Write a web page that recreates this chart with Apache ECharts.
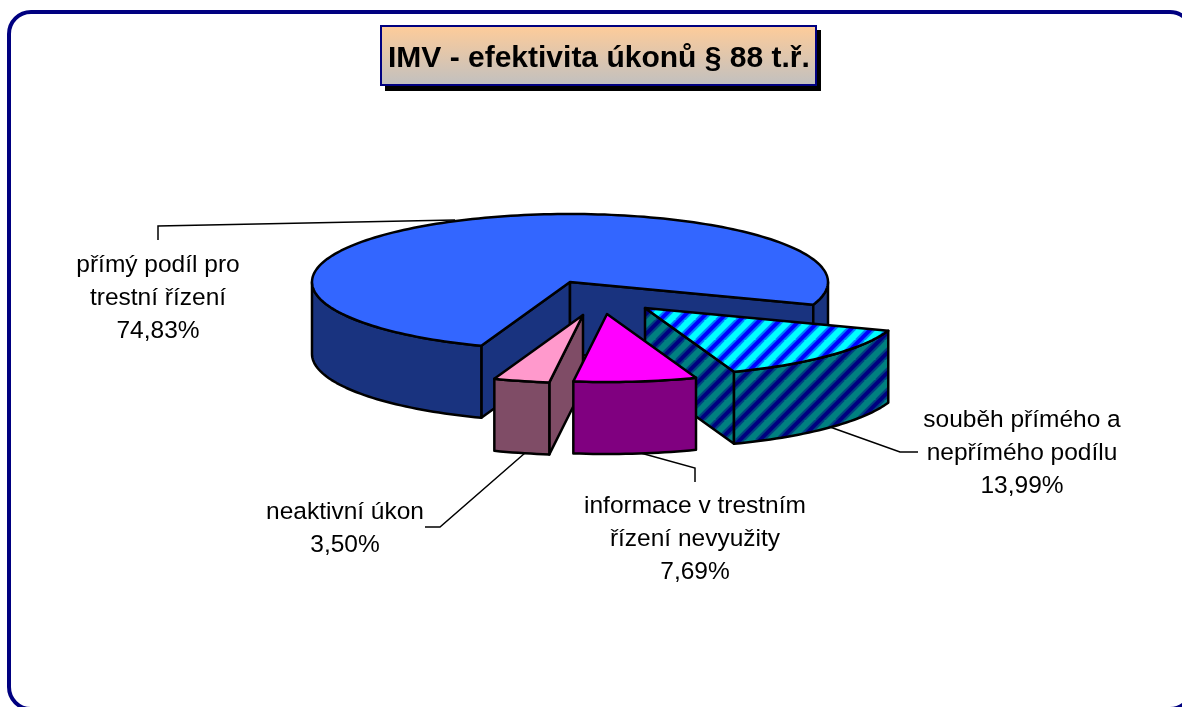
<!DOCTYPE html>
<html>
<head>
<meta charset="utf-8">
<title>IMV - efektivita úkonů § 88 t.ř.</title>
<style>
  html, body { margin: 0; padding: 0; background: #fff; }
  #chart { width: 1182px; height: 707px; }
</style>
<script src="https://cdn.jsdelivr.net/npm/echarts@6/dist/echarts.min.js"></script>
</head>
<body>
<div id="chart"></div>
<script>
const chartTitle = 'IMV - efektivita úkonů § 88 t.ř.';
const categories = ['přímý podíl pro\ntrestní řízení', 'souběh přímého a\nnepřímého podílu', 'informace v trestním\nřízení nevyužity', 'neaktivní úkon'];
const shares = [74.83, 13.99, 7.69, 3.50];

// look of each slice, same order as categories
const explode = [[0, 0], [75, 26], [37, 32], [13, 33]];
const labelAt = [[158, 298], [1022, 453], [695, 539], [345, 529]];
const leaders = [
  [[158, 240], [158, 226], [455, 220]],
  [[830, 427], [900, 452], [918, 452]],
  [[637, 452], [695, 468], [695, 482]],
  [[525, 453], [440, 527], [425, 527]]
];
const topColors = ['#3366ff', stripes('#00ffff', '#0000ff'), '#ff00ff', '#ff99cc'];
const sideColors = ['#19337f', stripes('#008080', '#000080'), '#800080', '#7f4c66'];
// paint back to front, information slice sits over the neighbouring one
const paintOrder = [0, 1, 3, 2];

const pie = { cx: 570, cy: 282, rx: 258, ry: 68, depth: 72, firstAngle: 110.1 };
const total = shares.reduce((a, b) => a + b, 0);

function stripes(bg, fg) {
  const size = 20;
  const c = document.createElement('canvas');
  c.width = c.height = size;
  const ctx = c.getContext('2d');
  ctx.fillStyle = bg;
  ctx.fillRect(0, 0, size, size);
  ctx.strokeStyle = fg;
  // soft edge first, then the solid core
  [[8, 0.5], [4, 1]].forEach(([width, alpha]) => {
    ctx.lineWidth = width;
    ctx.globalAlpha = alpha;
    [-size, 0, size].forEach((d) => {
      ctx.beginPath();
      ctx.moveTo(d - 2, size + 2);
      ctx.lineTo(d + size + 2, -2);
      ctx.stroke();
    });
  });
  return { image: c, repeat: 'repeat' };
}

// angle of a running share, degrees clockwise from east
const angleOf = (cum) => echarts.number.linearMap(cum, [0, total], [pie.firstAngle, pie.firstAngle + 360]);

function rimPoint(deg, ox, oy, drop) {
  const t = (deg * Math.PI) / 180;
  return [pie.cx + ox + pie.rx * Math.cos(t), pie.cy + oy + drop + pie.ry * Math.sin(t)];
}

function arcPoints(a0, a1, ox, oy, drop) {
  const pts = [];
  const n = Math.max(2, Math.ceil((a1 - a0) / 1.5));
  for (let i = 0; i <= n; i++) {
    pts.push(rimPoint(a0 + ((a1 - a0) * i) / n, ox, oy, drop));
  }
  return pts;
}

function poly(points, fill) {
  return {
    type: 'polygon',
    shape: { points: points },
    style: { fill: fill, stroke: '#000', lineWidth: 2.5, lineJoin: 'round' }
  };
}

function renderSlice(params, api) {
  const i = api.value(0);
  const cum = shares.slice(0, i).reduce((a, b) => a + b, 0);
  const a0 = angleOf(cum);
  const a1 = angleOf(cum + api.value(1));
  const ox = explode[i][0];
  const oy = explode[i][1];
  const apex = [pie.cx + ox, pie.cy + oy];
  const apexLow = [apex[0], apex[1] + pie.depth];
  const children = [];

  // cut faces, only the ones turned towards the viewer
  if (Math.sin(((a0 - 90) * Math.PI) / 180) > 0) {
    children.push(poly([apex, rimPoint(a0, ox, oy, 0), rimPoint(a0, ox, oy, pie.depth), apexLow], sideColors[i]));
  }
  if (Math.sin(((a1 + 90) * Math.PI) / 180) > 0) {
    children.push(poly([apex, rimPoint(a1, ox, oy, 0), rimPoint(a1, ox, oy, pie.depth), apexLow], sideColors[i]));
  }
  // outer wall, front half of the ellipse
  [[0, 180], [360, 540]].forEach((range) => {
    const from = Math.max(a0, range[0]);
    const to = Math.min(a1, range[1]);
    if (to > from) {
      children.push(poly(arcPoints(from, to, ox, oy, 0).concat(arcPoints(from, to, ox, oy, pie.depth).reverse()), sideColors[i]));
    }
  });
  children.push(poly([apex].concat(arcPoints(a0, a1, ox, oy, 0)), topColors[i]));
  return { type: 'group', children: children };
}

function renderLabel(params, api) {
  const i = api.value(0);
  const pct = api.value(1).toFixed(2).replace('.', ',') + '%';
  return {
    type: 'group',
    children: [
      {
        type: 'polyline',
        shape: { points: leaders[i] },
        style: { fill: 'none', stroke: '#000', lineWidth: 1.5 }
      },
      {
        type: 'text',
        x: labelAt[i][0],
        y: labelAt[i][1],
        style: {
          text: categories[i] + '\n' + pct,
          font: '24.5px "Liberation Sans", Arial, sans-serif',
          fill: '#000',
          align: 'center',
          verticalAlign: 'middle',
          lineHeight: 33
        }
      }
    ]
  };
}

const myChart = echarts.init(document.getElementById('chart'), null, { renderer: 'canvas' });
const sliceRows = paintOrder.map((i) => [i, shares[i]]);

myChart.setOption({
  animation: false,
  backgroundColor: '#fff',
  title: {
    text: chartTitle,
    left: 388,
    top: 44,
    padding: 0,
    textStyle: { fontFamily: '"Liberation Sans", Arial, sans-serif', fontSize: 30, fontWeight: 'bold', color: '#000' }
  },
  graphic: [
    {
      type: 'rect',
      silent: true,
      shape: { x: 9, y: 12, width: 1183, height: 697, r: 22 },
      style: { fill: 'none', stroke: '#000080', lineWidth: 4 }
    },
    {
      type: 'rect',
      silent: true,
      shape: { x: 385, y: 30, width: 436, height: 61 },
      style: { fill: '#000' }
    },
    {
      type: 'rect',
      silent: true,
      shape: { x: 381, y: 26, width: 435, height: 59 },
      style: {
        fill: {
          type: 'linear', x: 0, y: 0, x2: 0, y2: 1,
          colorStops: [{ offset: 0, color: '#ffcc99' }, { offset: 1, color: '#c0c0c0' }]
        },
        stroke: '#000080',
        lineWidth: 2
      }
    }
  ],
  series: [
    { type: 'custom', coordinateSystem: 'none', silent: true, data: sliceRows, renderItem: renderSlice, z: 3 },
    { type: 'custom', coordinateSystem: 'none', silent: true, data: shares.map((v, i) => [i, v]), renderItem: renderLabel, z: 2 }
  ]
});

window.addEventListener('resize', () => {
  myChart.resize();
});
</script>
</body>
</html>
